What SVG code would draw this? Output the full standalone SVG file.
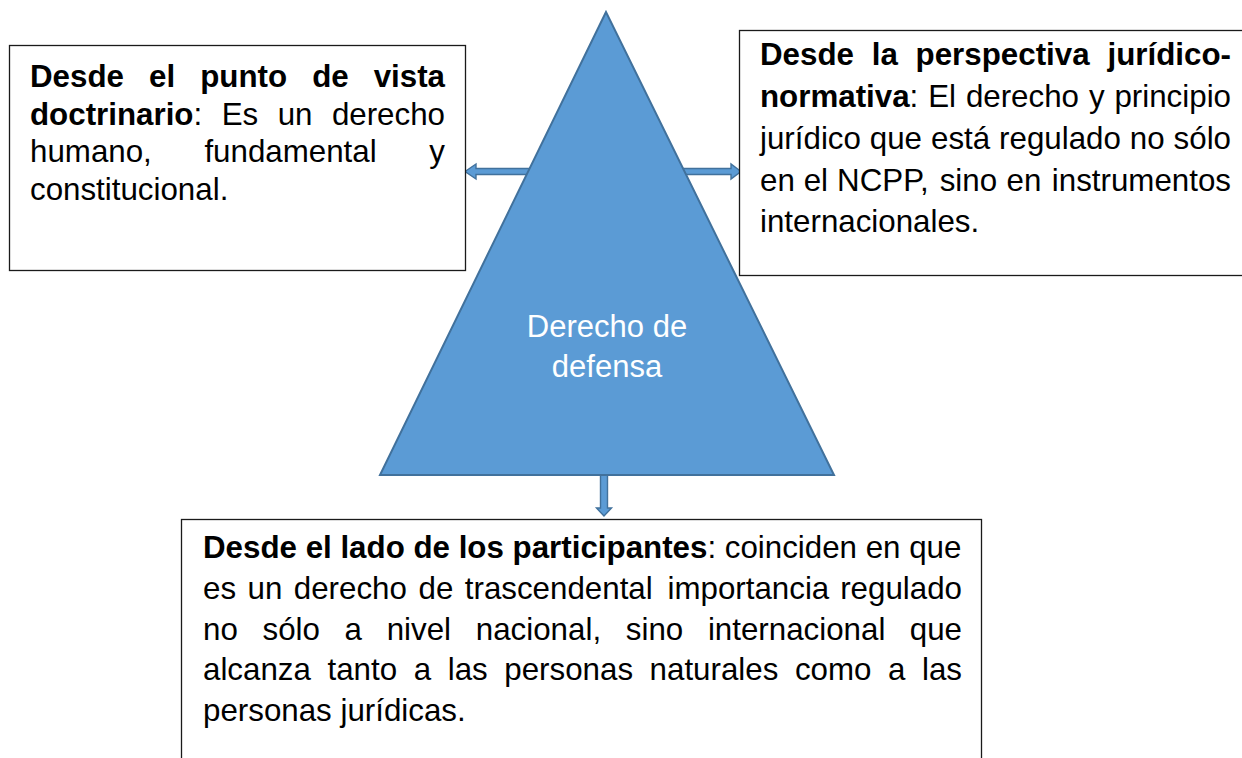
<svg xmlns="http://www.w3.org/2000/svg" width="1242" height="758" viewBox="0 0 1242 758">
<style>
  .box { fill: #ffffff; stroke: #1a1a1a; stroke-width: 1.3; }
  .tri { fill: #5B9BD5; stroke: #41719C; stroke-width: 2; }
  .arrow { fill: #5B9BD5; stroke: #41719C; stroke-width: 1.4; stroke-linejoin: miter; }
  .t { font-family: "Liberation Sans", Arial, sans-serif; font-size: 31.3px; fill: #000000; }
  .b { font-weight: bold; }
  .e { text-anchor: end; }
  .c { font-family: "Liberation Sans", Arial, sans-serif; font-size: 31px; fill: #ffffff; text-anchor: middle; }
</style>
<rect x="0" y="0" width="1242" height="758" fill="#ffffff"/>

<g id="connectors">
  <polygon class="arrow" points="465,171.5 476,164 476,168.5 532,168.5 532,174.5 476,174.5 476,179"/>
  <polygon class="arrow" points="741,171.5 731,164 731,168.5 680,168.5 680,174.5 731,174.5 731,179"/>
  <polygon class="arrow" points="604,516 596.5,508 600.5,508 600.5,472 607.5,472 607.5,508 611.5,508"/>
</g>

<g id="node-center">
  <polygon class="tri" points="606,12 380,475 834,475"/>
  <text class="c" x="607" y="337">Derecho de</text>
  <text class="c" x="607" y="377">defensa</text>
</g>

<g id="node-left">
  <rect class="box" x="9.5" y="45.5" width="456" height="225"/>
  <text class="t b" x="30" y="87">Desde</text>
  <text class="t b" x="149" y="87">el</text>
  <text class="t b" x="200.2" y="87">punto</text>
  <text class="t b" x="312.2" y="87">de</text>
  <text class="t b e" x="445" y="87">vista</text>
  <text class="t" x="30" y="124.5"><tspan class="b">doctrinario</tspan>:</text>
  <text class="t" x="221.7" y="124.5">Es</text>
  <text class="t" x="277.7" y="124.5">un</text>
  <text class="t e" x="445" y="124.5">derecho</text>
  <text class="t" x="30" y="162">humano,</text>
  <text class="t" x="204.4" y="162">fundamental</text>
  <text class="t e" x="445" y="162">y</text>
  <text class="t" x="30" y="199.5">constitucional.</text>
</g>

<g id="node-right">
  <rect class="box" x="739.5" y="30.5" width="520" height="245"/>
  <text class="t b" x="760" y="64.5">Desde</text>
  <text class="t b" x="871.7" y="64.5">la</text>
  <text class="t b" x="915.6" y="64.5">perspectiva</text>
  <text class="t b e" x="1231" y="64.5">jurídico-</text>
  <text class="t" x="760" y="106.5"><tspan class="b">normativa</tspan>:</text>
  <text class="t" x="928.2" y="106.5">El</text>
  <text class="t" x="965.9" y="106.5">derecho</text>
  <text class="t" x="1088.9" y="106.5">y</text>
  <text class="t e" x="1231" y="106.5">principio</text>
  <text class="t" x="760" y="148.5">jurídico</text>
  <text class="t" x="869.8" y="148.5">que</text>
  <text class="t" x="931" y="148.5">está</text>
  <text class="t" x="999.1" y="148.5">regulado</text>
  <text class="t" x="1129.8" y="148.5">no</text>
  <text class="t e" x="1231" y="148.5">sólo</text>
  <text class="t" x="760" y="190.5">en</text>
  <text class="t" x="803.7" y="190.5">el</text>
  <text class="t" x="837.1" y="190.5">NCPP,</text>
  <text class="t" x="939.7" y="190.5">sino</text>
  <text class="t" x="1006.5" y="190.5">en</text>
  <text class="t e" x="1231" y="190.5">instrumentos</text>
  <text class="t" x="760" y="232">internacionales.</text>
</g>

<g id="node-bottom">
  <rect class="box" x="181.5" y="519.5" width="800" height="260"/>
  <text class="t" x="203" y="558"><tspan class="b">Desde el lado de los participantes</tspan>: coinciden en que</text>
  <text class="t" x="203" y="599">es</text>
  <text class="t" x="247.5" y="599">un</text>
  <text class="t" x="293.8" y="599">derecho</text>
  <text class="t" x="418.5" y="599">de</text>
  <text class="t" x="464.8" y="599">trascendental</text>
  <text class="t" x="667.5" y="599">importancia</text>
  <text class="t e" x="962" y="599">regulado</text>
  <text class="t" x="203" y="639.5">no</text>
  <text class="t" x="262.5" y="639.5">sólo</text>
  <text class="t" x="344.6" y="639.5">a</text>
  <text class="t" x="386.7" y="639.5">nivel</text>
  <text class="t" x="475.8" y="639.5">nacional,</text>
  <text class="t" x="625.8" y="639.5">sino</text>
  <text class="t" x="707.9" y="639.5">internacional</text>
  <text class="t e" x="962" y="639.5">que</text>
  <text class="t" x="203" y="680">alcanza</text>
  <text class="t" x="327.5" y="680">tanto</text>
  <text class="t" x="413.7" y="680">a</text>
  <text class="t" x="447.7" y="680">las</text>
  <text class="t" x="504.3" y="680">personas</text>
  <text class="t" x="649.6" y="680">naturales</text>
  <text class="t" x="794.9" y="680">como</text>
  <text class="t" x="888" y="680">a</text>
  <text class="t e" x="962" y="680">las</text>
  <text class="t" x="203" y="720.5">personas jurídicas.</text>
</g>
</svg>
